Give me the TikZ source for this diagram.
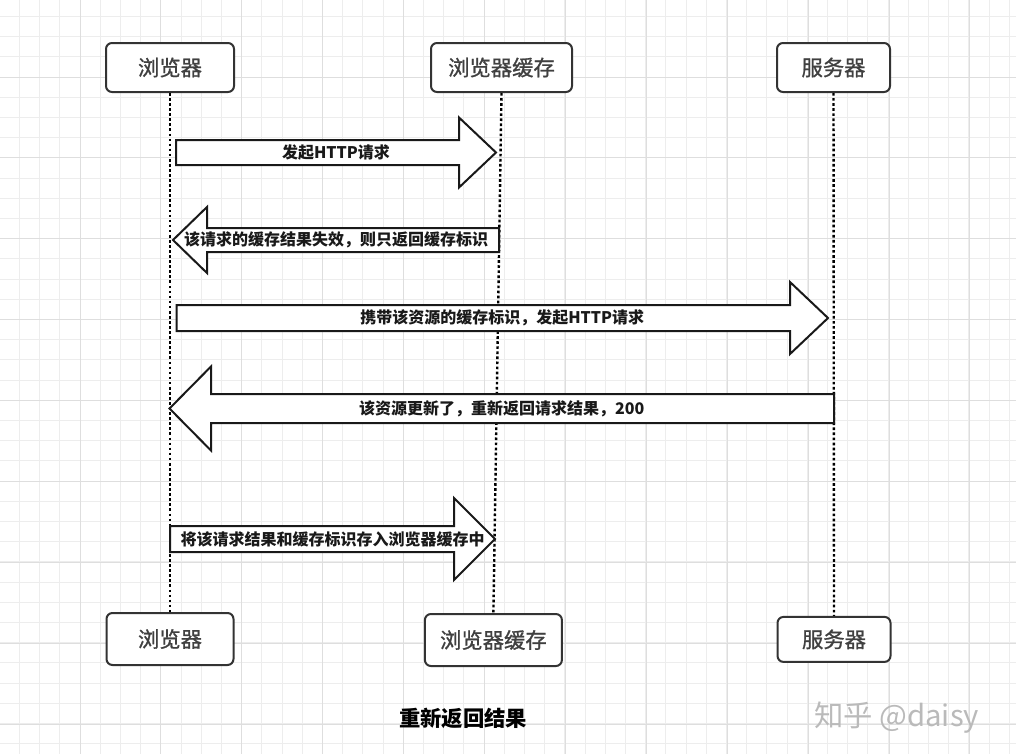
\documentclass[tikz,border=0pt]{standalone}
\usepackage{fontspec}
\setmainfont{Noto Sans CJK SC}
\newfontfamily\labelfont{Noto Sans CJK SC}[FakeBold=1]
\usepackage{tikz}
\usetikzlibrary{calc}

\tikzset{
  actor/.style={draw=black!80, line width=1.5pt, rounded corners=4.5pt, fill=white,
    text=black!75, inner sep=0pt, font=\labelfont\fontsize{16pt}{18pt}\selectfont},
  lifeline/.style={black, line width=1.8pt, dash pattern=on 2pt off 1.8pt},
  bigarrow/.style={draw=black!90, line width=1.5pt, fill=white, line join=miter},
  msg/.style={text=black!90, inner sep=0pt, font=\bfseries\fontsize{12pt}{14pt}\selectfont},
  minorgrid/.style={black!7, line width=0.75pt},
  majorgrid/.style={black!13, line width=0.75pt}
}

\begin{document}
\begin{tikzpicture}[x=0.75pt,y=-0.75pt] % 1 unit = 1px, y down
\useasboundingbox (0,0) rectangle (1016,754);

% grid
\foreach \i in {0,1,...,50} {
\draw[minorgrid] ({-0.8+20.2*\i},0) -- ({-0.8+20.2*\i},754);
}
\foreach \i in {0,1,...,38} {
\draw[minorgrid] (0,{-3.8+20.2*\i}) -- (1016,{-3.8+20.2*\i});
}
\foreach \i in {0,1,...,12} {
\draw[majorgrid] ({-0.9+80.9*\i},0) -- ({-0.9+80.9*\i},754);
}
\foreach \i in {0,1,...,9} {
\draw[majorgrid] (0,{-3.9+80.9*\i}) -- (1016,{-3.9+80.9*\i});
}

% actors
\node[actor, minimum width=96pt, minimum height=36.75pt] (browser) at (170,67.5) {浏览器};
\node[actor, minimum width=105.75pt, minimum height=36.75pt] (cache) at (501.5,67.5) {浏览器缓存};
\node[actor, minimum width=84.75pt, minimum height=36.75pt] (server) at (833.5,67.5) {服务器};

\node[actor, minimum width=95.25pt, minimum height=39pt] (browser2) at (170,639) {浏览器};
\node[actor, minimum width=102.75pt, minimum height=39pt] (cache2) at (493.4,640) {浏览器缓存};
\node[actor, minimum width=84.75pt, minimum height=33.75pt] (server2) at (834,639.4) {服务器};

% lifelines
\draw[lifeline] (browser.south) -- (browser2.north);
\draw[lifeline] (cache.south) -- (cache2.north);
\draw[lifeline] (server.south) -- (server2.north);

% messages: name/tail/head base/tip/y/shaft/head
\foreach \n/\xa/\xh/\xb/\y/\s/\h/\txt in {
  ask/176/459/496/152.5/12.5/35/发起HTTP请求,
  stale/499/207/173/240/12/33/该请求的缓存结果失效，则只返回缓存标识,
  revalidate/176.5/790/828/318/13/36/携带该资源的缓存标识，发起HTTP请求,
  fresh/834/211/169.5/408.5/14.5/42/该资源更新了，重新返回请求结果，200,
  store/170/454/495/539/13/41/将该请求结果和缓存标识存入浏览器缓存中} {
\coordinate (\n-tail) at (\xa,\y);
\coordinate (\n-tip) at (\xb,\y);
\draw[bigarrow] (\xa,\y-\s) -- (\xh,\y-\s) -- (\xh,\y-\h) -- (\n-tip)
  -- (\xh,\y+\h) -- (\xh,\y+\s) -- (\xa,\y+\s) -- cycle;
\node[msg] (\n) at ($(\n-tail)!0.5!(\n-tip)$) {\txt};
}

\node[font=\bfseries\fontsize{16pt}{18pt}\selectfont, inner sep=0pt] (title) at (463,718) {重新返回结果};
\node[anchor=west, text=black!27, inner sep=0pt, font=\fontsize{22pt}{24pt}\selectfont] (mark) at (814,718) {知乎 @daisy};

\end{tikzpicture}
\end{document}
